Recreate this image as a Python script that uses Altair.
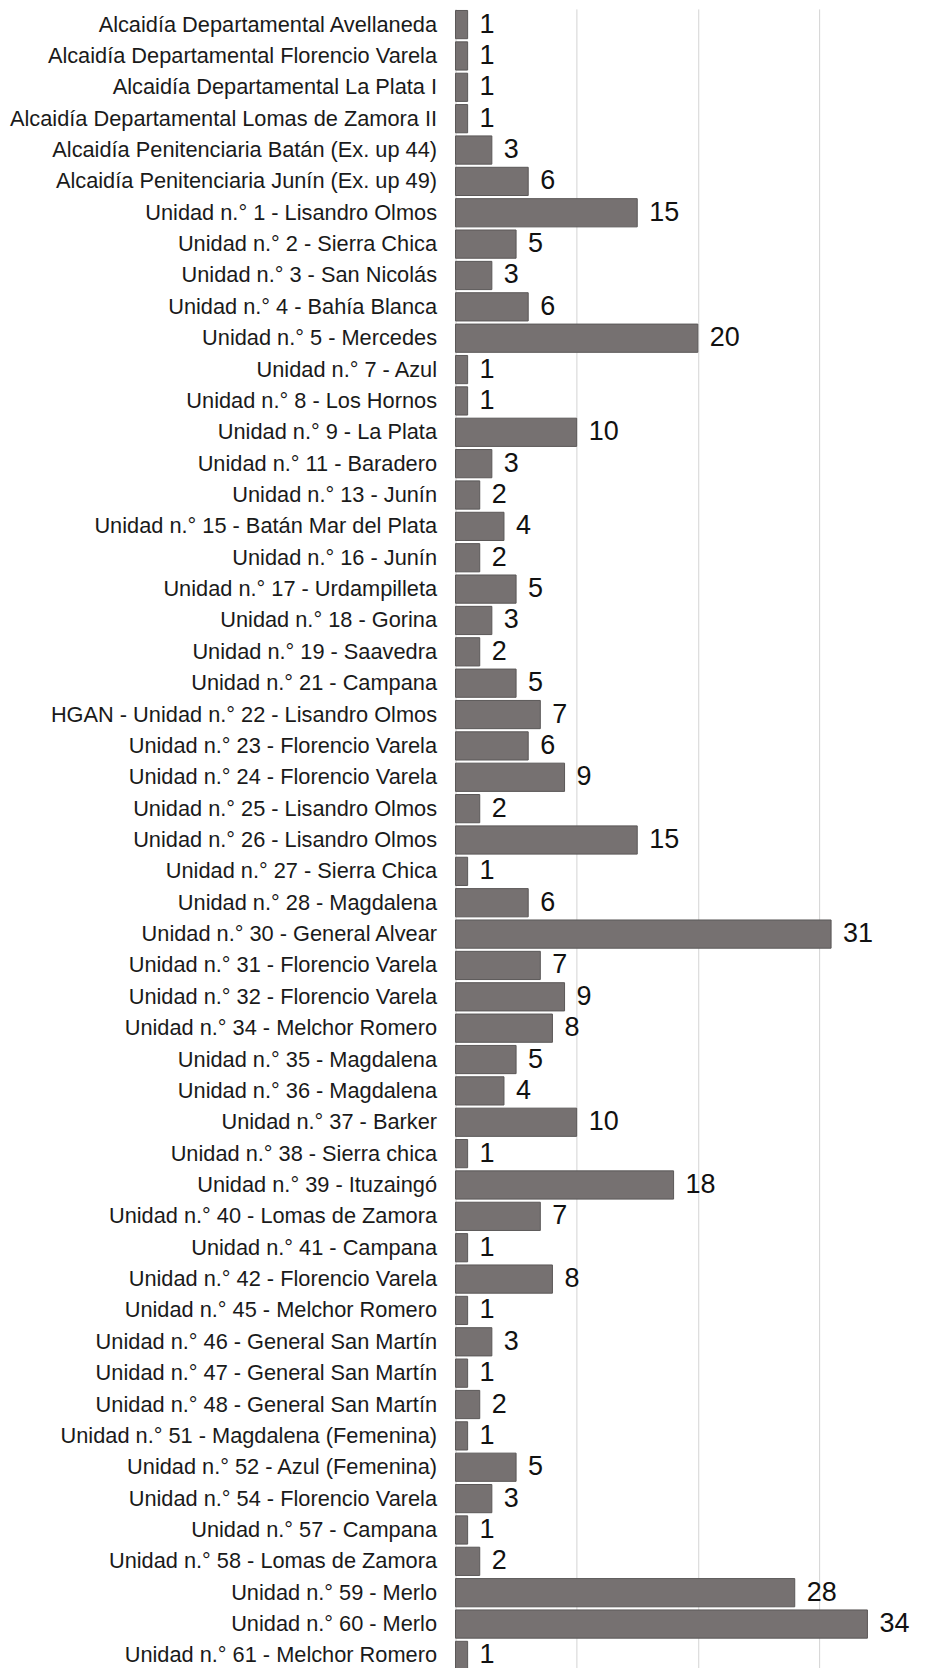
import altair as alt
import pandas as pd

units = [
    "Alcaidía Departamental Avellaneda",
    "Alcaidía Departamental Florencio Varela",
    "Alcaidía Departamental La Plata I",
    "Alcaidía Departamental Lomas de Zamora II",
    "Alcaidía Penitenciaria Batán (Ex. up 44)",
    "Alcaidía Penitenciaria Junín (Ex. up 49)",
    "Unidad n.° 1 - Lisandro Olmos",
    "Unidad n.° 2 - Sierra Chica",
    "Unidad n.° 3 - San Nicolás",
    "Unidad n.° 4 - Bahía Blanca",
    "Unidad n.° 5 - Mercedes",
    "Unidad n.° 7 - Azul",
    "Unidad n.° 8 - Los Hornos",
    "Unidad n.° 9 - La Plata",
    "Unidad n.° 11 - Baradero",
    "Unidad n.° 13 - Junín",
    "Unidad n.° 15 - Batán Mar del Plata",
    "Unidad n.° 16 - Junín",
    "Unidad n.° 17 - Urdampilleta",
    "Unidad n.° 18 - Gorina",
    "Unidad n.° 19 - Saavedra",
    "Unidad n.° 21 - Campana",
    "HGAN - Unidad n.° 22 - Lisandro Olmos",
    "Unidad n.° 23 - Florencio Varela",
    "Unidad n.° 24 - Florencio Varela",
    "Unidad n.° 25 - Lisandro Olmos",
    "Unidad n.° 26 - Lisandro Olmos",
    "Unidad n.° 27 - Sierra Chica",
    "Unidad n.° 28 - Magdalena",
    "Unidad n.° 30 - General Alvear",
    "Unidad n.° 31 - Florencio Varela",
    "Unidad n.° 32 - Florencio Varela",
    "Unidad n.° 34 - Melchor Romero",
    "Unidad n.° 35 - Magdalena",
    "Unidad n.° 36 - Magdalena",
    "Unidad n.° 37 - Barker ",
    "Unidad n.° 38 - Sierra chica",
    "Unidad n.° 39 - Ituzaingó",
    "Unidad n.° 40 - Lomas de Zamora",
    "Unidad n.° 41 - Campana",
    "Unidad n.° 42 - Florencio Varela",
    "Unidad n.° 45 - Melchor Romero",
    "Unidad n.° 46 - General San Martín",
    "Unidad n.° 47 - General San Martín",
    "Unidad n.° 48 - General San Martín",
    "Unidad n.° 51 - Magdalena (Femenina)",
    "Unidad n.° 52 - Azul (Femenina)",
    "Unidad n.° 54 - Florencio Varela",
    "Unidad n.° 57 - Campana",
    "Unidad n.° 58 - Lomas de Zamora",
    "Unidad n.° 59 - Merlo",
    "Unidad n.° 60 - Merlo",
    "Unidad n.° 61 - Melchor Romero",
]

counts = [1, 1, 1, 1, 3, 6, 15, 5, 3, 6, 20, 1, 1, 10, 3, 2, 4, 2, 5, 3, 2, 5,
          7, 6, 9, 2, 15, 1, 6, 31, 7, 9, 8, 5, 4, 10, 1, 18, 7, 1, 8, 1, 3, 1,
          2, 1, 5, 3, 1, 2, 28, 34, 1]

grid_ticks = [0, 10, 20, 30]

df = pd.DataFrame({"unidad": units, "n": counts})

y_enc = alt.Y(
    "unidad:N",
    sort=None,
    title=None,
    scale=alt.Scale(paddingInner=0.1, paddingOuter=0.05),
    axis=alt.Axis(
        labelFont="Liberation Sans",
        labelFontSize=21.8,
        labelColor="#1a1a1a",
        labelPadding=19,
        labelLimit=0,
        ticks=False,
        domain=False,
        grid=False,
    ),
)
x_enc = alt.X(
    "n:Q",
    title=None,
    scale=alt.Scale(domain=[0, 39], nice=False),
    axis=alt.Axis(
        values=grid_ticks,
        labels=False,
        ticks=False,
        domain=False,
        grid=True,
        gridColor="#d4d4d4",
        gridWidth=1,
    ),
)

base = alt.Chart(df).encode(x=x_enc, y=y_enc)

bars = base.mark_bar(color="#767171", stroke="#5a5757", strokeWidth=1)

text = base.mark_text(
    align="left", baseline="middle", dx=12,
    font="Liberation Sans", fontSize=27, color="#111111"
).encode(text="n:Q")

chart = (bars + text).properties(
    width=473,
    height=1664,
    background="white",
    autosize=alt.AutoSizeParams(type="none"),
    padding={"left": 448, "top": 0, "right": 0, "bottom": 0},
).configure_view(stroke=None)

chart.save("out.html", embed_options={"renderer": "svg", "actions": False})
